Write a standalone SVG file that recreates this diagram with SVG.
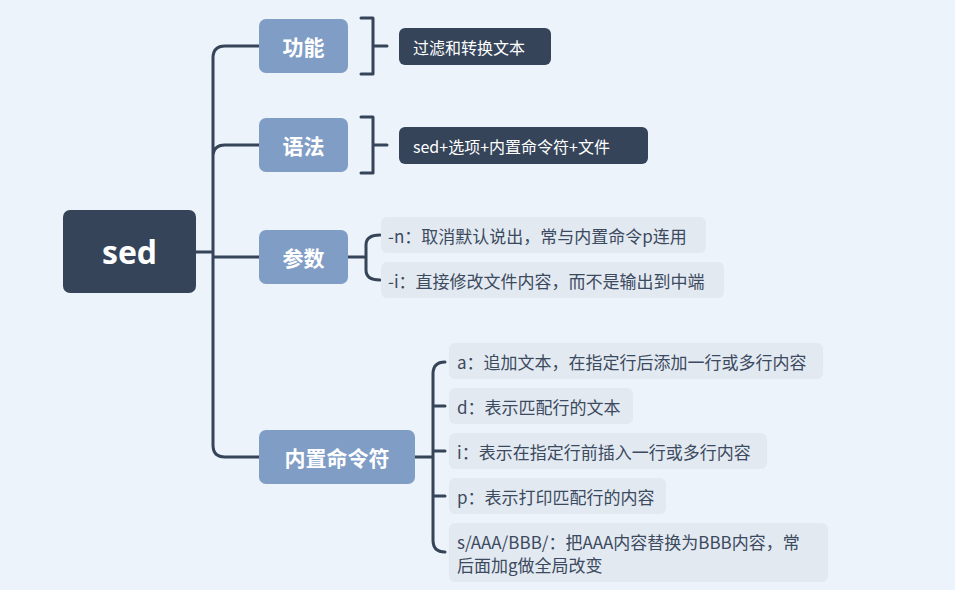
<svg xmlns="http://www.w3.org/2000/svg" width="955" height="590" viewBox="0 0 955 590">
<style>
.l{fill:none;stroke:#354459;stroke-width:3;stroke-linecap:round;stroke-linejoin:round}
.n{fill:#7f9dc5}
.nt{font-family:"Noto Sans CJK SC",sans-serif;font-weight:bold;font-size:21px;fill:#fff;text-anchor:middle;dominant-baseline:central}
.d{fill:#354459}
.dt{font-family:"Noto Sans CJK SC",sans-serif;font-size:16px;fill:#fff;dominant-baseline:central}
.s{fill:#e3e9f1}
.st{font-family:"Noto Sans CJK SC",sans-serif;font-size:17px;fill:#3b4a5e;dominant-baseline:central}
</style>
<rect width="955" height="590" fill="#edf3fa"/>
<g id="connectors">
<path class="l" d="M196 252H213M259 46H225Q213 46 213 58V445Q213 457 225 457H259M225 145Q213 145 213 157M225 145H259M213 257H259"/>
<path class="l" d="M361 18H373V74H361M373 46H387"/>
<path class="l" d="M361 117H373V173H361M373 145H387"/>
<path class="l" d="M348 257H364M380 235Q366 235 366 245V270Q366 280 380 280"/>
<path class="l" d="M415 457H433M445 362Q433 362 433 374V540Q433 552 445 552M433 406H445M433 451H445M433 496H445"/>
</g>
<g id="root"><rect x="63" y="210" width="133" height="83" rx="7" class="d"/><text x="129.5" y="251" class="nt" style="font-size:32px;font-family:'Open Sans','Noto Sans',sans-serif">sed</text></g>
<g id="n1"><rect x="259" y="19" width="89" height="54" rx="7" class="n"/><text x="303.5" y="46" class="nt">功能</text></g>
<g id="n2"><rect x="259" y="118" width="89" height="54" rx="7" class="n"/><text x="303.5" y="145" class="nt">语法</text></g>
<g id="n3"><rect x="259" y="230" width="89" height="54" rx="7" class="n"/><text x="303.5" y="257" class="nt">参数</text></g>
<g id="n4"><rect x="259" y="430" width="156" height="54" rx="7" class="n"/><text x="337" y="457" class="nt">内置命令符</text></g>
<g id="d1"><rect x="399" y="28" width="152" height="37" rx="6" class="d"/><text x="413" y="46.5" class="dt">过滤和转换文本</text></g>
<g id="d2"><rect x="399" y="127" width="249" height="37" rx="6" class="d"/><text x="413" y="145.5" class="dt">sed+选项+内置命令符+文件</text></g>
<g id="p1"><rect x="381" y="217" width="325" height="36" rx="6" class="s"/><text x="388" y="235" class="st">-n：取消默认说出，常与内置命令p连用</text></g>
<g id="p2"><rect x="381" y="262" width="343" height="36" rx="6" class="s"/><text x="388" y="280" class="st">-i：直接修改文件内容，而不是输出到中端</text></g>
<g id="c1"><rect x="449" y="343" width="374" height="36" rx="6" class="s"/><text x="457" y="361" class="st">a：追加文本，在指定行后添加一行或多行内容</text></g>
<g id="c2"><rect x="449" y="388" width="184" height="36" rx="6" class="s"/><text x="457" y="406" class="st">d：表示匹配行的文本</text></g>
<g id="c3"><rect x="449" y="433" width="318" height="36" rx="6" class="s"/><text x="457" y="451" class="st">i：表示在指定行前插入一行或多行内容</text></g>
<g id="c4"><rect x="449" y="478" width="217" height="36" rx="6" class="s"/><text x="457" y="496" class="st">p：表示打印匹配行的内容</text></g>
<g id="c5"><rect x="449" y="523" width="379" height="59" rx="6" class="s"/><text x="457" y="541" class="st">s/AAA/BBB/：把AAA内容替换为BBB内容，常</text><text x="457" y="564" class="st">后面加g做全局改变</text></g>
</svg>
